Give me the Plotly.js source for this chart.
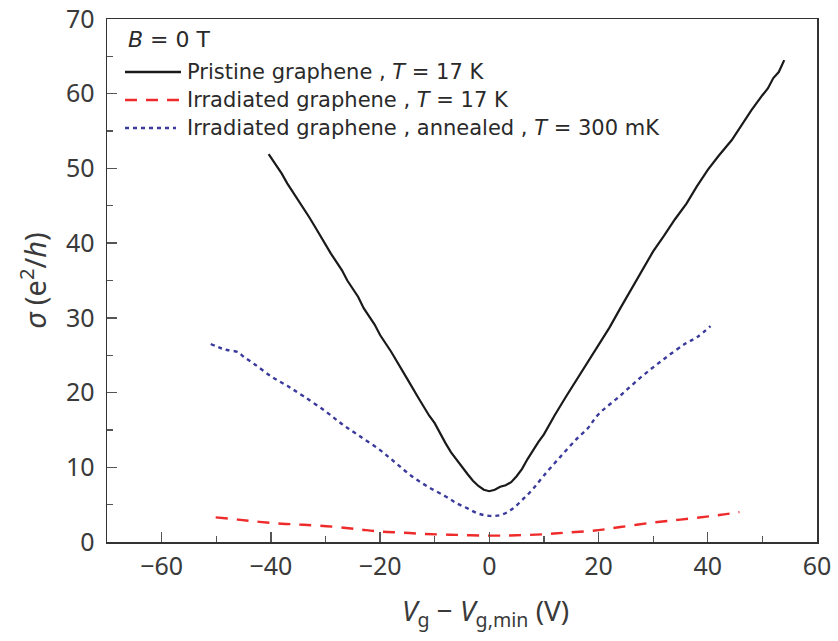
<!DOCTYPE html>
<html>
<head>
<meta charset="utf-8">
<script src="https://cdn.plot.ly/plotly-3.0.1.min.js"></script>
<style>html,body{margin:0;padding:0;background:#fff;}#chart{width:838px;height:641px;}</style>
</head>
<body>
<div id="chart"></div>
<script>
// Pristine graphene, T = 17 K
const pristineX = [-40.4,-39,-38,-37,-35,-33,-32,-30,-29,-27,-26,-24,-23,-21,-20,-18,-17,-15,-13,-11,-10,-9,-8,-7,-6,-5,-4,-3,-2,-1,0,1,2,3,4,5,6,7,8,9,10,11,12,14,16,18,20,22,24,26.3,28,30,32,34,36.1,38,40,42,44.4,46,48,50,51,52,53,54];
const pristineY = [51.9,50.4,49.3,48.0,45.8,43.5,42.3,39.9,38.6,36.4,35.0,32.8,31.3,29.1,27.7,25.5,24.2,21.8,19.3,16.9,15.9,14.5,13.2,12.0,11.0,10.0,9.1,8.2,7.5,7.0,6.8,7.0,7.4,7.6,8.0,8.8,9.8,11.1,12.3,13.4,14.4,15.8,17.0,19.4,21.7,24.0,26.4,28.7,31.3,34.2,36.3,38.9,41.0,43.2,45.3,47.6,49.8,51.7,53.8,55.6,57.8,59.8,60.7,62.1,62.9,64.5];
// Irradiated graphene, T = 17 K
const irradX = [-50.1,-46,-42.1,-38,-34,-28.7,-24,-20.1,-15.9,-11.6,-6,0,5,9.8,14,19,24,30,35,39.8,43,45.8];
const irradY = [3.3,3.0,2.7,2.45,2.3,2.05,1.7,1.4,1.25,1.07,0.95,0.85,0.9,1.03,1.25,1.5,2.0,2.6,3.0,3.4,3.7,4.0];
// Irradiated graphene, annealed, T = 300 mK
const annealX = [-51,-49,-48,-46,-45,-43,-40,-37,-34,-30,-27,-24,-20,-17,-14,-11,-8,-6,-4,-2,0,2,4,6,8,10,13,16,18,20,24,28,32,36,38,40.5];
const annealY = [26.5,25.9,25.7,25.4,24.8,23.8,22.2,20.9,19.5,17.5,15.8,14.3,12.3,10.5,8.7,7.3,6.1,5.2,4.5,3.8,3.5,3.6,4.3,5.6,7.1,8.9,11.4,13.8,15.2,17.1,19.6,22.2,24.5,26.6,27.4,28.9];

const seriesNames = [
  'Pristine graphene , <i>T</i> = 17 K',
  'Irradiated graphene , <i>T</i> = 17 K',
  'Irradiated graphene , annealed , <i>T</i> = 300 mK'
];
const legendTitle = '<i>B</i> = 0 T';
const xTitle = '<i>V</i><sub>g</sub> \u2212 <i>V</i><sub>g,min</sub> (V)';
const yTitle = '<i>\u03c3</i> (e<sup>2</sup>/<i>h</i>)';
const xTicks = [-60,-40,-20,0,20,40,60];
const yTicks = [0,10,20,30,40,50,60,70];

const fontFam = '"Noto Sans", "Open Sans", "DejaVu Sans", sans-serif';
const legFam = '"DejaVu Sans", "Noto Sans", sans-serif';
const tickCol = '#3a3a3a';
const colors = ['#1a1a1a', '#ee2a2a', '#3a3a9c'];
const dashes = ['solid', '12px,9px', '4px,4px'];

const traces = [
  {x: pristineX, y: pristineY, name: seriesNames[0], mode: 'lines', type: 'scatter',
   line: {color: colors[0], width: 2.2}},
  {x: irradX, y: irradY, name: seriesNames[1], mode: 'lines', type: 'scatter',
   line: {color: colors[1], width: 2.4, dash: dashes[1], shape: 'spline'}},
  {x: annealX, y: annealY, name: seriesNames[2], mode: 'lines', type: 'scatter',
   line: {color: colors[2], width: 2.4, dash: dashes[2], shape: 'spline'}}
];

// plot area in pixels: left 107, right 817, top 19, bottom 542
const px = v => (v - 107) / 710;
const py = v => (542 - v) / 523;
const rowY = [72, 100, 128];
const shapes = [];
const annotations = [{
  xref: 'paper', yref: 'paper', x: px(127), y: py(40), xanchor: 'left', yanchor: 'middle', borderpad: 0,
  text: legendTitle, showarrow: false, font: {family: legFam, size: 22, color: '#2a2a2a'}
}, {
  xref: 'paper', yref: 'paper', x: px(486), y: py(612), xanchor: 'center', yanchor: 'middle', borderpad: 0,
  text: xTitle, showarrow: false, font: {family: fontFam, size: 28, color: tickCol}
}];
seriesNames.forEach((n, i) => {
  shapes.push({type: 'line', xref: 'paper', yref: 'paper', x0: px(125), x1: px(i === 2 ? 176 : 181), y0: py(rowY[i]), y1: py(rowY[i]),
    line: {color: colors[i], width: i === 0 ? 2.4 : 2.6, dash: dashes[i]}});
  annotations.push({xref: 'paper', yref: 'paper', x: px(186), y: py(rowY[i]), xanchor: 'left', yanchor: 'middle', borderpad: 0,
    text: n, showarrow: false, font: {family: legFam, size: 21, color: '#2a2a2a'}});
});

const layout = {
  width: 838, height: 641,
  margin: {l: 107, r: 21, t: 19, b: 99},
  paper_bgcolor: '#fff', plot_bgcolor: '#fff',
  font: {family: fontFam, color: tickCol},
  showlegend: false,
  shapes: shapes,
  annotations: annotations,
  xaxis: {
    range: [-70, 60], tickvals: xTicks, ticktext: xTicks.map(v => v < 0 ? '\u2212' + Math.abs(v) : String(v)),
    ticks: 'inside', ticklen: 10, tickwidth: 1.3, tickcolor: '#555',
    minor: {ticks: 'inside', ticklen: 6, dtick: 10, tick0: -50, tickcolor: '#555', tickwidth: 1.3},
    showline: true, linecolor: '#333', linewidth: 1.5, mirror: true,
    showgrid: false, zeroline: false,
    tickfont: {family: fontFam, size: 25, color: tickCol},
    ticklabelstandoff: 1
  },
  yaxis: {
    range: [0, 70], tickvals: yTicks,
    ticks: 'inside', ticklen: 10, tickwidth: 1.3, tickcolor: '#555',
    minor: {ticks: 'inside', ticklen: 6, dtick: 5, tick0: 5, tickcolor: '#555', tickwidth: 1.3},
    showline: true, linecolor: '#333', linewidth: 1.5, mirror: true,
    showgrid: false, zeroline: false,
    tickfont: {family: fontFam, size: 25, color: tickCol},
    ticklabelstandoff: 6,
    title: {text: yTitle, font: {family: fontFam, size: 29, color: tickCol}, standoff: 10}
  }
};

Plotly.newPlot('chart', traces, layout, {displayModeBar: false, staticPlot: true});
</script>
</body>
</html>
